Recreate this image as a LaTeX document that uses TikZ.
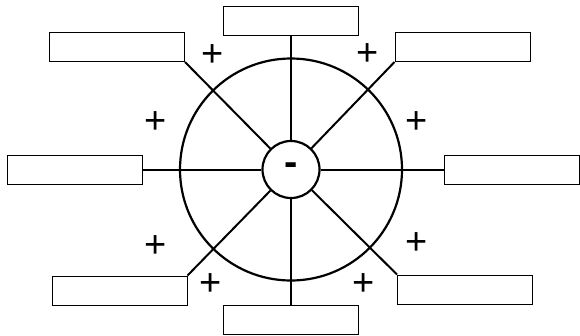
\documentclass[tikz,border=0pt]{standalone}
\usepackage{fontspec}
\setmainfont{Liberation Sans}

\begin{document}
\begin{tikzpicture}[
  x=1pt,
  y=-1pt,
  slot/.style={
    draw,
    line width=1pt,
    minimum width=135pt,
    minimum height=29pt,
    inner sep=0pt
  },
  spoke/.style={
    line width=2pt
  },
  sign/.style={
    inner sep=0pt,
    font=\fontsize{38}{38}\selectfont
  }
]
  \useasboundingbox (0,0) rectangle (580,335);

  \node[draw,circle,line width=2.2pt,minimum size=222pt] (Rim) at (291,169.5) {};
  \node[draw,circle,line width=2.2pt,minimum size=57pt,inner sep=0pt,
    font=\fontsize{40}{40}\selectfont\bfseries] (Hub) at (291,169.5) {-};

  \foreach \name/\x/\y/\port in {N/291/20.5/south, NE/462.5/47/south west,
      E/512/169.5/west, SE/465/289.5/north west, S/291/319.5/north,
      SW/119.5/290.5/north east, W/74.5/169.5/east, NW/117/47/south east}{
    \node[slot] (Box-\name) at (\x,\y) {};
    \draw[spoke] (Box-\name.\port) -- (Hub);
  }

  \foreach \px/\py [count=\i] in {213/56, 368/55, 156/123, 417/123,
      156/247, 417/244, 211/285, 364/285}{
    \node[sign] (Plus-\i) at (\px,\py) {+};
  }
\end{tikzpicture}
\end{document}
